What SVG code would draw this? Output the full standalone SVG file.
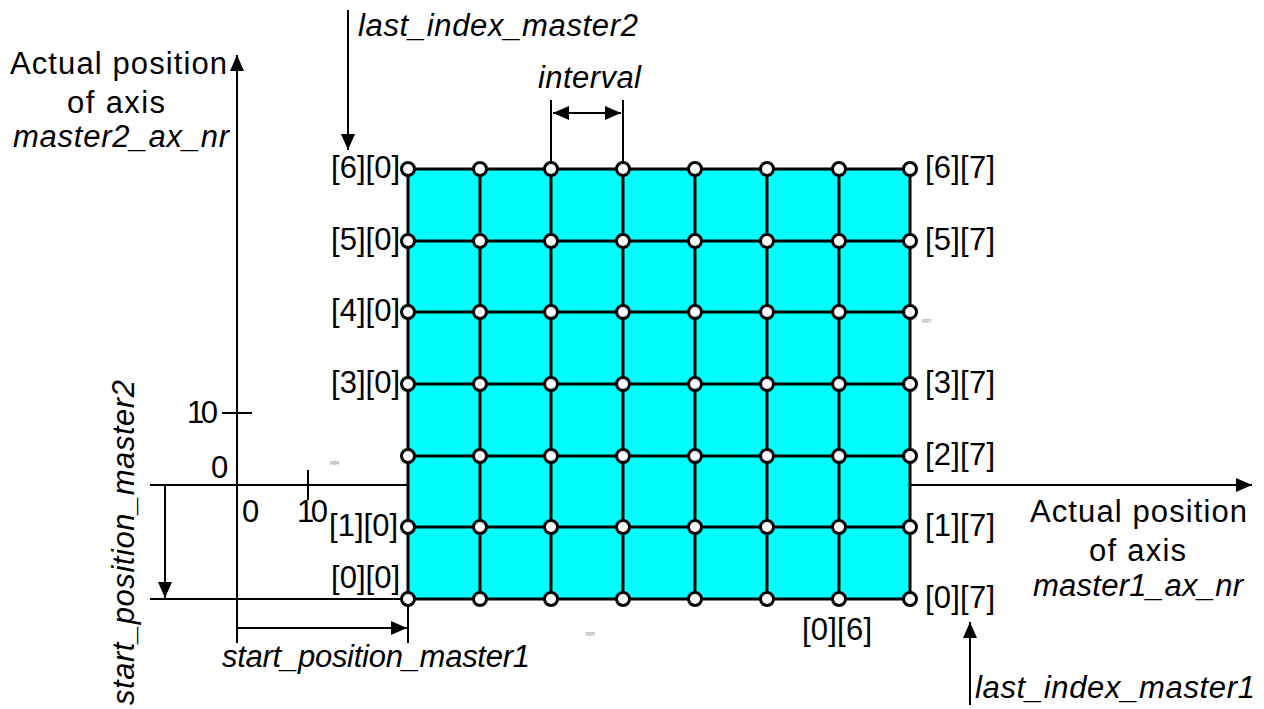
<svg xmlns="http://www.w3.org/2000/svg" width="1264" height="709" viewBox="0 0 1264 709">
<style>
.t{font-family:"Liberation Sans",Arial,sans-serif;font-size:31px;fill:#000}
.i{font-style:italic}
.e{text-anchor:end}
.m{text-anchor:middle}
.tiny{font-family:"Liberation Sans",Arial,sans-serif;font-size:4px;fill:#555}
.ln{stroke:#000;stroke-width:2;fill:none}
.g{stroke:#000;stroke-width:3;fill:none}
.c{fill:#fff;stroke:#000;stroke-width:3}
</style>
<defs>
<marker id="ah" viewBox="0 0 16 14" refX="16" refY="7" markerWidth="16" markerHeight="14" markerUnits="userSpaceOnUse" orient="auto-start-reverse">
<path d="M0,0 L16,7 L0,14 Z" fill="#000"/>
</marker>
</defs>
<rect width="1264" height="709" fill="#fff"/>
<g id="connectors">
<line class="ln" x1="237" y1="643" x2="237" y2="55" marker-end="url(#ah)"/>
<line class="ln" x1="150" y1="485" x2="1252" y2="485" marker-end="url(#ah)"/>
<line class="ln" x1="150" y1="599" x2="408" y2="599"/>
<line class="ln" x1="165" y1="485" x2="165" y2="598" marker-end="url(#ah)"/>
<line class="ln" x1="237" y1="628" x2="407" y2="628" marker-end="url(#ah)"/>
<line class="ln" x1="408" y1="599" x2="408" y2="643"/>
<line class="ln" x1="222" y1="413" x2="252" y2="413"/>
<line class="ln" x1="308" y1="470" x2="308" y2="500"/>
<line class="ln" x1="348" y1="10" x2="348" y2="150" marker-end="url(#ah)"/>
<line class="ln" x1="551" y1="100" x2="551" y2="169"/>
<line class="ln" x1="623" y1="100" x2="623" y2="169"/>
<line class="ln" x1="553" y1="113" x2="621" y2="113" marker-start="url(#ah)" marker-end="url(#ah)"/>
<line class="ln" x1="970" y1="705" x2="970" y2="622" marker-end="url(#ah)"/>
</g>
<g id="grid">
<rect x="408" y="169" width="502" height="430" fill="#00ffff" stroke="#000" stroke-width="3"/>
<path class="g" d="M480,169V599M551,169V599M623,169V599M695,169V599M767,169V599M839,169V599M408,241H910M408,312H910M408,384H910M408,456H910M408,527H910"/>
</g>
<g id="points">
<g id="row6"><circle class="c" cx="408" cy="169" r="6.5"/><circle class="c" cx="480" cy="169" r="6.5"/><circle class="c" cx="551" cy="169" r="6.5"/><circle class="c" cx="623" cy="169" r="6.5"/><circle class="c" cx="695" cy="169" r="6.5"/><circle class="c" cx="767" cy="169" r="6.5"/><circle class="c" cx="839" cy="169" r="6.5"/><circle class="c" cx="910" cy="169" r="6.5"/></g>
<g id="row5"><circle class="c" cx="408" cy="241" r="6.5"/><circle class="c" cx="480" cy="241" r="6.5"/><circle class="c" cx="551" cy="241" r="6.5"/><circle class="c" cx="623" cy="241" r="6.5"/><circle class="c" cx="695" cy="241" r="6.5"/><circle class="c" cx="767" cy="241" r="6.5"/><circle class="c" cx="839" cy="241" r="6.5"/><circle class="c" cx="910" cy="241" r="6.5"/></g>
<g id="row4"><circle class="c" cx="408" cy="312" r="6.5"/><circle class="c" cx="480" cy="312" r="6.5"/><circle class="c" cx="551" cy="312" r="6.5"/><circle class="c" cx="623" cy="312" r="6.5"/><circle class="c" cx="695" cy="312" r="6.5"/><circle class="c" cx="767" cy="312" r="6.5"/><circle class="c" cx="839" cy="312" r="6.5"/><circle class="c" cx="910" cy="312" r="6.5"/></g>
<g id="row3"><circle class="c" cx="408" cy="384" r="6.5"/><circle class="c" cx="480" cy="384" r="6.5"/><circle class="c" cx="551" cy="384" r="6.5"/><circle class="c" cx="623" cy="384" r="6.5"/><circle class="c" cx="695" cy="384" r="6.5"/><circle class="c" cx="767" cy="384" r="6.5"/><circle class="c" cx="839" cy="384" r="6.5"/><circle class="c" cx="910" cy="384" r="6.5"/></g>
<g id="row2"><circle class="c" cx="408" cy="456" r="6.5"/><circle class="c" cx="480" cy="456" r="6.5"/><circle class="c" cx="551" cy="456" r="6.5"/><circle class="c" cx="623" cy="456" r="6.5"/><circle class="c" cx="695" cy="456" r="6.5"/><circle class="c" cx="767" cy="456" r="6.5"/><circle class="c" cx="839" cy="456" r="6.5"/><circle class="c" cx="910" cy="456" r="6.5"/></g>
<g id="row1"><circle class="c" cx="408" cy="527" r="6.5"/><circle class="c" cx="480" cy="527" r="6.5"/><circle class="c" cx="551" cy="527" r="6.5"/><circle class="c" cx="623" cy="527" r="6.5"/><circle class="c" cx="695" cy="527" r="6.5"/><circle class="c" cx="767" cy="527" r="6.5"/><circle class="c" cx="839" cy="527" r="6.5"/><circle class="c" cx="910" cy="527" r="6.5"/></g>
<g id="row0"><circle class="c" cx="408" cy="599" r="6.5"/><circle class="c" cx="480" cy="599" r="6.5"/><circle class="c" cx="551" cy="599" r="6.5"/><circle class="c" cx="623" cy="599" r="6.5"/><circle class="c" cx="695" cy="599" r="6.5"/><circle class="c" cx="767" cy="599" r="6.5"/><circle class="c" cx="839" cy="599" r="6.5"/><circle class="c" cx="910" cy="599" r="6.5"/></g>
</g>
<g id="labels">
<text class="t" x="331" y="178" textLength="69">[6][0]</text>
<text class="t" x="331" y="250" textLength="69">[5][0]</text>
<text class="t" x="331" y="321" textLength="69">[4][0]</text>
<text class="t" x="331" y="393" textLength="69">[3][0]</text>
<text class="t" x="329" y="536" textLength="69">[1][0]</text>
<text class="t" x="331" y="588" textLength="69">[0][0]</text>
<text class="t" x="925" y="178" textLength="70">[6][7]</text>
<text class="t" x="925" y="250" textLength="70">[5][7]</text>
<text class="t" x="925" y="393" textLength="70">[3][7]</text>
<text class="t" x="925" y="465" textLength="70">[2][7]</text>
<text class="t" x="925" y="536" textLength="70">[1][7]</text>
<text class="t" x="925" y="608" textLength="70">[0][7]</text>
<text class="t" x="802" y="640" textLength="70">[0][6]</text>
<text class="tiny" x="330" y="464">[2][0]</text>
<text class="tiny" x="922" y="322">[4][7]</text>
<text class="tiny" x="586" y="635">[0][1]</text>
<text class="t" x="10" y="74" textLength="217">Actual position</text>
<text class="t" x="67" y="113" textLength="98">of axis</text>
<text class="t i" x="13" y="147" textLength="216">master2_ax_nr</text>
<text class="t i" x="358" y="36" textLength="280">last_index_master2</text>
<text class="t i" x="538" y="88" textLength="103">interval</text>
<text class="t" x="1030" y="522" textLength="217">Actual position</text>
<text class="t" x="1089" y="561" textLength="97">of axis</text>
<text class="t i" x="1033" y="596" textLength="210">master1_ax_nr</text>
<text class="t i" x="222" y="667" textLength="308">start_position_master1</text>
<text class="t i" x="975" y="698" textLength="280">last_index_master1</text>
<text class="t i" transform="translate(134,705) rotate(-90)" textLength="325">start_position_master2</text>
<text class="t" x="187" y="423" textLength="31">10</text>
<text class="t" x="211" y="478">0</text>
<text class="t" x="242" y="522">0</text>
<text class="t" x="297" y="522" textLength="31">10</text>
</g>
</svg>
